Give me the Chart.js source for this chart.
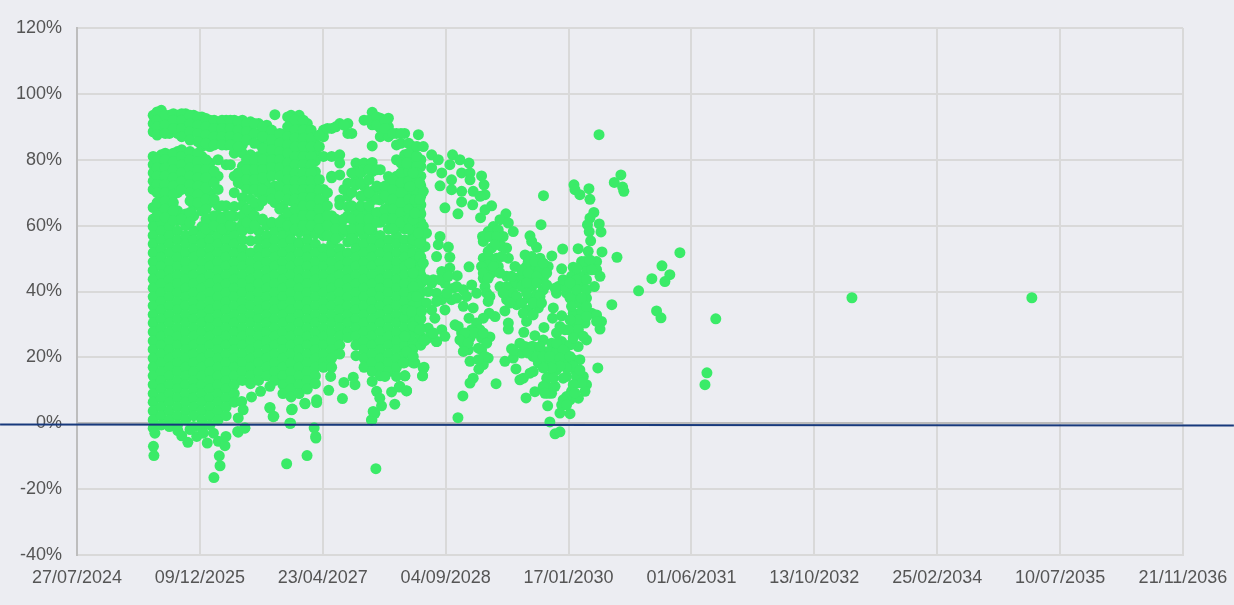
<!DOCTYPE html>
<html><head><meta charset="utf-8">
<style>html,body{margin:0;padding:0;background:#ecedf2}canvas{display:block}</style>
<script src="https://cdn.jsdelivr.net/npm/chart.js@4/dist/chart.umd.min.js"></script>
</head><body><canvas id="c" width="1234" height="605"></canvas>
<script>
const xTickLabels=["27/07/2024","09/12/2025","23/04/2027","04/09/2028","17/01/2030","01/06/2031","13/10/2032","25/02/2034","10/07/2035","21/11/2036"];
// x values are days after 27/07/2024, y values are percent
const trendDays=[-313,4707];
const trendPct=[-0.4,-0.65];
const outlierDays=[3153,3885];
const outlierPct=[38.1,38.1];
const columnDays=[310,343,376,409,442,475,508,541,574,607,640,673,706,739,772,805,838,871,904,937,970,1003,1036,1069,1102,1135,1168,1201,1234,1267,1300,1333,1366,1399];
const columnPct=[
[93.5,91,88.5,81,78.5,76,73.5,71,65.5,62,59.7,57,54.4,51.7,49,46.4,43.7,41,38.4,35.7,33,30.4,27.7,25,22.4,19.7,17,14.4,11.7,9,6.4,3.7,1,-1.5],
[95,92,89.5,81.5,79,76.5,74,71.5,69,66.5,64,61,58.4,55.7,53,50.4,47.7,45,42.4,39.7,37,34.4,31.7,29,26.4,23.7,21,18.4,15.7,13,10.4,7.7,5,2.3,-0.5],
[93.5,91,88,81,78,75.5,73,70.5,68,65.5,63,59.7,57,54.4,51.7,49,46.4,43.7,41,38.4,35.7,33,30.4,27.7,25,22.4,19.7,17,14.4,11.7,9,6.4,3.7,1,-1],
[93.5,91,88,82.5,80,77.5,75,72.5,70,64.5,61.5,58.4,55.7,53,50.4,47.7,45,42.4,39.7,37,34.4,31.7,29,26.4,23.7,21,18.4,15.7,13,10.4,7.7,5,2.3,-0.5],
[94,91.5,89,82,79.5,77,74.5,72,63.5,60,57,54.4,51.7,49,46.4,43.7,41,38.4,35.7,33,30.4,27.7,25,22.4,19.7,17,14.4,11.7,9,6.4,3.7,1],
[93.5,91,88.5,81,79,76,73.5,71,68.5,66,63,58.4,55.7,53,50.4,47.7,45,42.4,39.7,37,34.4,31.7,29,26.4,23.7,21,18.4,15.7,13,10.4,7.7,5,2.3,-1],
[93,90.5,87.5,84,81,78,75.5,72.5,70,67,64.5,59.7,57,54.4,51.7,49,46.4,43.7,41,38.4,35.7,33,30.4,27.7,25,22.4,19.7,17,14.4,11.7,9,6.4,3.7,1,-1.5],
[92,89.5,86.5,84,79,76,73.5,70,67,62,59.5,58.4,55.7,53,50.4,47.7,45,42.4,39.7,37,34.4,31.7,29,26.4,23.7,21,18.4,15.7,13,10.4,7.7,5,2.3,-0.5],
[91,88.5,86,80,75,71,66,63,60,57,54.4,51.7,49,46.4,43.7,41,38.4,35.7,33,30.4,27.7,25,22.4,19.7,17,14.4,11.7,9,6.4,3.7,1],
[92,89.5,87,84.5,78.5,66,63,60,58.4,55.7,53,50.4,47.7,45,42.4,39.7,37,34.4,31.7,29,26.4,23.7,21,18.4,15.7,13,10.4,7.7,5,2.3],
[92,89.5,86.5,84,82,75,70,65.8,62.8,59.5,57,54.4,51.7,49,46.4,43.7,41,38.4,35.7,33,30.4,27.7,25,22.4,19.7,17,14.4,11.7,9,6.4],
[92,89.5,87,84.5,82,78,75,72.5,68.5,66,63,60.5,58.4,55.7,53,50.4,47.7,45,42.4,39.7,37,34.4,31.7,29,26.4,23.7,21,18.4,15.7,13],
[91.5,89,86.5,81.5,79,76,73.5,71,68,64.5,62,59,55.4,51.7,49,46.4,43.7,41,38.4,35.7,33,30.4,27.7,25,22.4,19.7,17,14.4,12],
[91,88,85,81,78,75.5,73,70,66,61.5,58.4,55.7,53,50.4,47.7,45,42.4,39.7,37,34.4,31.7,29,26.4,23.7,21,18.4,15.7,13],
[90.5,88,84.5,82,79.5,77,74.5,72,69,60,57,54.4,51.7,49,46.4,43.7,41,38.4,35.7,33,30.4,27.7,25,22.4,19.7,17,14.4],
[93.7,87.5,84.5,82,79.5,77,72,69.5,67,60,58.4,55.7,53,50.4,47.7,45,42.4,39.7,37,34.4,31.7,29,26.4,23.7,21,18.4,15.7,13],
[87.5,85,82,79.5,77,74.5,72,69.5,66,62,59,57,54.4,51.7,49,46.4,43.7,41,38.4,35.7,33,30.4,27.7,25,22.4,19.7,17,14.4,11.7,9],
[93.5,91,88,85,83,80,77.5,75,72.5,70,67.5,64,61.5,58,55.7,53,50.4,47.7,45,42.4,39.7,37,34.4,31.7,29,26.4,23.7,21,18.4,15.7,13,10.4,8],
[93.5,91,88,85,82,79,75.5,73,70.5,68,65.5,63,60.5,58,55,54.4,51.7,49,46.4,43.7,41,38.4,35.7,33,30.4,27.7,25,22.4,19.7,17,14.4,11.7,9],
[91,88,85.5,83,80.5,78,75.5,73,70.5,68,65,62.5,60,57.5,55.7,53,50.4,47.7,45,42.4,39.7,37,34.4,31.7,29,26.4,23.7,21,18.4,15.7,13,10.4],
[85,82.5,79.7,76.4,71.5,69,66,63,60,57.5,54.4,51.7,49,46.4,43.7,41,38.4,35.7,33,30.4,27.7,25,22.4,19.7,17,14.4,12],
[89,87,81,71,68,65.5,62.5,59.5,57,53,50.4,47.7,45,42.4,39.7,37,34.4,31.7,29,26.4,23.7,21,18.4,17],
[89.5,81,75,74.5,63,60,57,54.4,51.7,49,46.4,43.7,41,38.4,35.7,33,30.4,27.7,25,22.4,19.7,17],
[91,81.5,79,75.4,67.8,66.3,60.5,57,53,50.4,47.7,45,42.4,39.7,37,34.4,31.7,29,26.4,23.7,21],
[91,88,72.9,68.9,65.8,63,58,55,51.7,49,46.4,43.7,41,38.4,35.7,33,30.4,27.7,26],
[79,76.4,74,72.3,63.8,60.7,58,55,53,50.4,47.7,45,42.4,39.7,37,34.4,31.7,29,26.4,23.7,20.5],
[92,79,77,72,68.9,63.8,60,57,54.4,51.7,49,46.4,43.7,41,38.4,35.7,33,30.4,27.7,25,22.4,19.7,17],
[94.4,90.6,84.2,79.2,76.4,70.4,67.8,63.8,60,58.4,55.7,53,50.4,47.7,45,42.4,39.7,37,34.4,31.7,29,26.4,23.7,21,18.4,15.7],
[92.6,89.6,87,77,70.9,67.8,64,61,57,54.4,51.7,49,46.4,43.7,41,38.4,35.7,33,30.4,27.7,25,22.4,19.7,17,14.4],
[92.6,90,87,74.9,71.9,69.9,67.8,65,62,59,55.7,53,50.4,47.7,45,42.4,39.7,37,34.4,31.7,29,26.4,23.7,21,18.4,15.7],
[88,84.5,80,75,72,69.5,67,64.5,62,59.7,57,54.4,51.7,49,46.4,43.7,41,38.4,35.7,33,30.4,27.7,25,22.4,19.7,17],
[88,81.5,79,77,74,71.5,69,66.5,64,61.5,59,55.7,53,50.4,47.7,45,42.4,39.7,37,34.4,31.7,29,26.4,23.7,21,18.4],
[84,83,80,77.5,75,72.5,70,67.5,65,62.5,60,57,54.4,51.7,49,46.4,43.7,41,38.4,35.7,33,30.4,27.7,25,22.4,20],
[80,78,75,72,69,66.3,63.5,61,58.4,55.7,53,50.4,47.7,45,42.4,39.7,37,34.4,31.7,29,26.4,23.7]
];
const upperDays=[326,359,392,426,460,492,525,558,590,624,656,690,722,755,792,825,857,888,921,953,986,1019,1053,1086,1118,1155,1188,1220,1253,1285,1318,1350,1383];
const upperPct=[
[94.5,92,90,87.5,80,77.5,75,72.5,70,67,63],
[93.5,90.5,88,82,80,77.5,75,72.5,70,67.5,65,62.5],
[94,92,89.5,82,79.5,77,74.5,72,69.5,67,64.5,61.5],
[94,92,89.5,87,83,81,78.5,76,73.5,71,62],
[93.5,91,88.5,86,82.5,80,77.5,75,72.5,70,67.5,64,61],
[93,90.5,88,85.5,82,79.5,77,74.5,72,69.5,67],
[92.5,90,87.5,85,80,77,74.5,71.5,68,65,62,59],
[92,89.5,87,84.5,76.5,73,68,63,60],
[92,89.5,87,84.5,66,62,59],
[92,89.5,87,84.5,78.5,63,60],
[91.5,89,86.5,84,76,73],
[91,88.5,86,80,77,74,71,65,61],
[91,88,85,80,77,74,71,67,63,60],
[90,87,83.5,80,77,74.5,71,67.5,62],
[89,86,83,80,77.5,75,70,68,61],
[88,85,82.5,80,77.5,75,72,69,65,61],
[93,90,87,84.5,82,79,76.5,74,71,68,64,60],
[92,89,86.5,84,81,78.5,76,73.5,71,68,65,62,59],
[92,89,86.5,84,81,78.5,76,73.5,71,68.5,66,63,60],
[89,86.5,84,81,78.5,76,73.5,71,68.5,66,63,60],
[87.5,84,74,71,68,65,62,59],
[89.5,70,66,63,60,57],
[90,62,59,56],
[90.5,71,62,59],
[88,76,70,66,62,59,56],
[76,73,69,66,62,59],
[92,77,74,70,66,62,59],
[93,90.5,77,72,68,64,61],
[92,89.5,72,69,65,62],
[88,74,71,68,65,62,59],
[88,85,79,76,73,70,67,64,61],
[85,82,79,76.5,73.5,71,68,65,62,59],
[84,81,78.5,76,73,70,67,64,61]
];
const looseDays=[2124,2213,2186,2220,2225,2022,2026,2046,2083,2087,1898,1497,1550,1565,1610,1642,2103,2087,2077,2125,2132,2084,2090,1888,1843,1850,1870,2039,1976,1932,2136,2197,2453,2380,2412,2392,2339,2285,2176,2358,2376,2599,2563,2555,2119,1705,1570,1550,1595,1827,1863,1915,1924,1945,1965,2006,1972,1965,
1528,1558,1595,1517,1484,1477,1524,1524,1565,1599,1646,1656,1612,1565,1660,1640,1599,1687,1660,1745,1721,1755,1775,1694,1673,1650,1653,1734,1714,1748,1687,1721,1755,1653,1680,1707,1667,1714,1653,1687,1660,1721,1748,1782,1789,1775,1823,1850,1884,1917,1829,1856,1884,1972,2019,2053,2080,2114,2114,2128,2073,1816,1856,1897,1809,1850,1897,1972,1951,2012,2046,2019,2053,2105,1992,2033,2073,1748,1789,1836,1870,1836,1877,1741,1938,2039,2019,2053,2094,2114,2134,2128,1972,1935,2019,2067,2073,2039,2033,1985,1951,1900,1818,1863,1897,1931,1972,2006,1829,1755,1755,1680,1701,1677,1653,1595,1626,1639,1606,1538,1565,1572,1599,1646,1592,1646,1673,1653,1599,1635,1612,1599,1741,1775,1786,1768,1802,1809,1850,1856,1884,1917,1951,1985,1877,1911,1945,1985,2019,2046,1856,1816,1917,1951,1992,2026,2060,2033,2073,1911,1945,1917,2012,2067,2040,2006,1978,
1389,1409,1443,1470,1443,1382,1409,1395,1409,1477,1511,1463,1517,1470,1416,1395,1484,1517,1547,1450,1606,1497,1531,1572,1626,1463,1429,1484,1524,1572,1612,1673,1497,1443,1395,1395,1456,1368,1429,1484,1497,1463,1409,1429,1361,1375,1412,1406,1334,1341,1314,1355,1341,1368,1355,1368,1368,1375,1368,1341,
317,311,313,410,426,451,487,530,575,602,606,579,582,557,654,683,460,514,555,853,936,869,965,972,785,801,873,928,975,1216,1200,1212,
710,747,785,785,798,866,971,975,927,876,1024,1032,1080,1086,1131,1124,1198,1205,1239,1219,1232,1280,1311,1341,1293,1409,1406,1334,1253,1300,1201,1368,1415,1463,670,676,656,656,683];
const loosePct=[87.6,75.4,73.1,71.7,70.4,72.4,70.9,69.4,71.2,68,69.1,65.4,63.6,67.2,66.3,62.4,64,62.3,60.3,60.5,58.1,58.2,55.4,60.3,56.9,55.2,53.4,53,52.9,50.8,52,50.4,51.8,47.8,45.1,43,43.9,40.2,36,34.1,32,31.7,15.3,11.7,16.8,12,8.3,1.7,47.5,7.7,9.6,5.3,0.4,-3.2,-2.6,2.9,5.6,3.1,
81.5,80,79,78.5,76,72.1,73.9,70.9,76,76,75.1,72.4,70.4,70.4,69.4,68.9,73.9,66,64.8,63.6,61.8,60.8,58.2,59.7,58.2,56.7,55.2,56.7,58.7,53.2,53.2,54.2,50.1,50.1,50.1,50.1,46.6,47.6,44,45.6,41.5,41.5,44.6,47.6,44,42,51.1,50.6,50.1,47.6,47.6,46.6,46.6,46.9,47.4,49.1,52.2,49.1,46.6,44.6,46.6,44.6,44,44,41.5,41.5,40.5,42,39.5,44.6,44.6,41.5,41.5,41.5,39.5,39,38,37.5,36,38,39,34.4,35,34.1,35,36.5,33.4,33.9,33.4,32.9,30.9,28.6,32.6,31.9,30.4,30.4,25.3,23.3,27.4,28.4,27.4,29.1,27.6,26.6,25.3,24.3,24.8,23.8,30.9,28.6,30.4,26.2,32.4,33.4,31.9,31.9,30.4,28.4,28.4,29.9,27.4,24.3,25.9,25.9,22.3,22.3,19.8,17.8,18.8,16.4,13.7,12.2,18.8,19.8,16.5,22.6,24.3,21.3,23.3,20.3,21.3,21.8,21.8,21.8,18.3,18.8,18.8,18.8,19.3,19.3,15.7,13.7,14.2,16.2,14.2,16.2,14.2,12.2,11.7,11.2,11.2,9.1,9.7,9.7,7.6,7.1,5.6,
87.6,84,81.5,80,77.5,81,70.4,64.3,59.8,56.7,53.5,50.6,50.4,54.2,53.7,46.6,46.1,47.1,44.8,43.6,42,42.5,41,40.5,39.5,39.5,40,37.5,37.5,35.5,35,37,34.4,34.4,36.5,31.9,31.9,29.4,28.9,28.4,26.4,24.8,25.1,25.9,22.3,18.3,17,14.4,14.4,9.8,11.2,26.4,34.4,41.5,48.6,55.7,61.8,67.9,76,79,
-3,-7,-9.8,-2.2,-3.8,-5.8,-4,-6,-5.5,-6.8,-4,-9.9,-12.9,-16.5,-2.5,-1.4,-1.9,-3,-3,-12.3,-9.8,0,-1.4,-4.5,4.6,2.1,4.1,5.9,6.3,-13.8,1,3,
8,9.7,11.2,4.8,2,0,-4,7.1,6.1,4.3,10,14.2,7.5,12.4,11.7,14,1,3.6,5.3,9.7,7.6,9.5,11,9.9,5.8,16.7,14.4,14.4,14.2,14.2,12.7,18.3,25.1,24.8,6.6,4.1,1.6,-2.7,-1.5];
const clusterDays=[1443,1477,1511,1463,1504,1545,1545,1585,1551,1578,1558,1592,1572,1619,1653,1667,1633,1660,1633,
1680,1707,1728,1701,1673,1728,1673,1694,1646,1653,1721,1768,1673,1667,1680,1748,1775,1789,1761,1734,
1836,1863,1897,1809,1836,1870,1911,1829,1870,1911,1829,1884,1856,1809,1890,1816,1856,1958,1985,1978,1945,
2033,2067,2087,2094,2033,2073,2033,2073,2006,2006,2053,2012,2073,2040,2006,2073,2114,2040,2060,1999,1965,2019,
1775,1823,1836,1856,1884,1870,1897,1924,1951,1978,1965,2006,2019,1992,1965,1931,1897,1843,1802,1911,1938,1978,2033,2053,2019,1897,1931,1904,1992,2026,1978,1992,2046,
1422,1395,1395,1409,1422,1368,1382,1422,1361,1402,1395,1450,1334,1341,1328,1368,1395,1395,1375,1389,1355];
const clusterPct=[42.5,43.6,44.6,37,39.5,41.5,38,38.5,29.4,27.4,25.3,24.3,21.8,27.4,27.4,24.3,22.8,20.3,19.3,
56.7,56.7,53.7,54.2,52.2,50.6,48.1,47.6,47.6,45.6,45.6,44.6,44,39.5,38.5,41.5,39.5,38.5,36.5,39.5,
49.1,49.1,48.6,46.6,45.6,44.6,45.6,42.6,42.6,42,39.5,38.5,36.5,36.5,36.5,33.4,32.9,41.5,41.5,43.6,41,
47.1,49.1,49.6,46.6,43.6,43.6,40.5,40.5,42.6,38,38,35.5,35.5,31.4,31.4,32.4,30.9,28.4,26.4,28.4,29.4,25.9,
22.3,23.3,21.3,23.3,23.3,20.3,20.3,20.3,24.3,22.3,19.8,20.3,17.3,16.8,17.3,16.8,16.8,15.2,13.2,13.7,13.7,13.7,14.2,12.2,11.7,11.2,9.1,9.1,8.1,9.2,7.1,5.6,16.2,
57.7,54.7,50.6,48.6,43.6,45.6,38.5,36.5,34,34,28.4,27.4,26.4,21.8,18.3,20.3,72.9,67.9,63.8,57.7,71.9];

const scatterData=[];
columnDays.forEach((d,i)=>columnPct[i].forEach(v=>scatterData.push({x:d,y:v})));
upperDays.forEach((d,i)=>upperPct[i].forEach(v=>scatterData.push({x:d,y:v})));
looseDays.forEach((d,i)=>{if(loosePct[i]!==undefined)scatterData.push({x:d,y:loosePct[i]})});
clusterDays.forEach((d,i)=>{if(clusterPct[i]!==undefined)scatterData.push({x:d,y:clusterPct[i]})});
outlierDays.forEach((d,i)=>scatterData.push({x:d,y:outlierPct[i]}));
const font={family:'"Liberation Sans",Arial,sans-serif',size:18};
new Chart(document.getElementById('c'),{
 type:'scatter',
 data:{datasets:[
  {data:trendDays.map((d,i)=>({x:d,y:trendPct[i]})),showLine:true,borderColor:'#17397c',borderWidth:2,pointRadius:0,clip:false,order:0},
  {data:scatterData,backgroundColor:'#3aeb68',borderColor:'#3aeb68',pointRadius:5.5,borderWidth:0,pointHoverRadius:5.5,order:1}
 ]},
 options:{
  responsive:false,animation:false,
  layout:{padding:{top:28,right:51,left:0,bottom:0}},
  plugins:{legend:{display:false},tooltip:{enabled:false}},
  scales:{
   x:{type:'linear',min:0,max:4500,afterFit:s=>{s.height=50;s.paddingRight=0;s.paddingLeft=0},
    ticks:{stepSize:500,autoSkip:false,maxRotation:0,color:'#555',font,padding:12,callback:(v)=>xTickLabels[Math.round(v/500)]},
    grid:{color:'#d9d9d9',lineWidth:2,drawTicks:false},border:{color:'#d9d9d9',width:2}},
   y:{min:-40,max:120,afterFit:s=>{s.width=77;s.paddingTop=0;s.paddingBottom=0},
    ticks:{stepSize:20,color:'#555',font,padding:15,callback:v=>v+'%'},
    grid:{color:c=>c.tick&&c.tick.value===0?'#bbbbbb':'#d9d9d9',lineWidth:2,drawTicks:false},border:{color:'#bdbdbd',width:2}}
  }
 }
});
</script></body></html>
